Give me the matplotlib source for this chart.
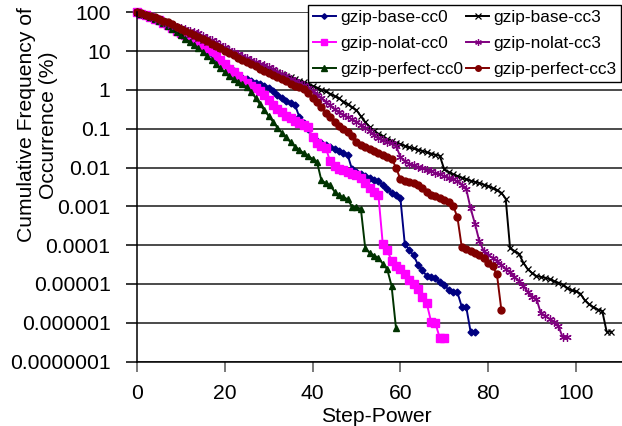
import numpy as np
import matplotlib
matplotlib.use("Agg")
import matplotlib.pyplot as plt
from matplotlib.ticker import FixedLocator, FixedFormatter

plt.rcParams['font.family'] = ['Liberation Sans', 'DejaVu Sans']

# log10 of cumulative frequency (%) at step-power 0, 1, 2, ...
base_cc0 = [2.00, 1.96, 1.92, 1.88, 1.83, 1.78, 1.72, 1.66, 1.59, 1.52,
            1.45, 1.38, 1.31, 1.23, 1.16, 1.08, 1.00, 0.92, 0.83, 0.75,
            0.66, 0.57, 0.48, 0.38, 0.31, 0.27, 0.23, 0.19, 0.14, 0.09,
            0.04, -0.02, -0.12, -0.22, -0.28, -0.33, -0.39, -0.70, -0.85, -1.00,
            -1.25, -1.32, -1.38, -1.42, -1.47, -1.52, -1.58, -1.63, -1.68, -2.05,
            -2.12, -2.18, -2.23, -2.27, -2.32, -2.36, -2.45, -2.55, -2.65, -2.70,
            -2.78, -3.96, -4.12, -4.26, -4.50, -4.64, -4.80, -4.83, -4.86, -4.95,
            -5.03, -5.15, -5.20, -5.22, -5.59, -5.59, -6.23, -6.23]
nolat_cc0 = [2.00, 1.96, 1.92, 1.88, 1.84, 1.79, 1.73, 1.66, 1.60, 1.53,
             1.47, 1.42, 1.36, 1.30, 1.24, 1.16, 1.08, 0.99, 0.90, 0.78,
             0.66, 0.55, 0.45, 0.36, 0.26, 0.17, 0.11, 0.05, -0.04, -0.14,
             -0.26, -0.38, -0.50, -0.58, -0.66, -0.73, -0.80, -0.86, -0.91, -0.96,
             -1.22, -1.36, -1.44, -1.49, -1.84, -1.95, -2.03, -2.07, -2.12, -2.16,
             -2.20, -2.27, -2.40, -2.53, -2.62, -2.71, -3.98, -4.13, -4.40, -4.55,
             -4.62, -4.75, -4.90, -5.00, -5.13, -5.33, -5.50, -5.97, -6.02, -6.40,
             -6.40]
perfect_cc0 = [2.00, 1.96, 1.92, 1.88, 1.83, 1.78, 1.72, 1.65, 1.57, 1.49,
               1.41, 1.32, 1.24, 1.15, 1.07, 0.97, 0.87, 0.77, 0.66, 0.56,
               0.46, 0.36, 0.28, 0.21, 0.14, 0.07, -0.05, -0.20, -0.37, -0.52,
               -0.67, -0.82, -0.97, -1.10, -1.22, -1.35, -1.46, -1.55, -1.63, -1.70,
               -1.78, -1.85, -2.33, -2.40, -2.46, -2.62, -2.72, -2.76, -2.82, -3.01,
               -3.03, -3.06, -4.08, -4.20, -4.27, -4.33, -4.48, -4.62, -5.05, -6.13]
base_cc3 = [2.00, 1.96, 1.93, 1.90, 1.86, 1.82, 1.77, 1.72, 1.66, 1.60,
            1.55, 1.50, 1.45, 1.40, 1.34, 1.29, 1.23, 1.18, 1.12, 1.07,
            1.02, 0.97, 0.92, 0.87, 0.82, 0.77, 0.72, 0.67, 0.62, 0.58,
            0.53, 0.49, 0.45, 0.41, 0.37, 0.33, 0.29, 0.24, 0.20, 0.15,
            0.10, 0.06, 0.01, -0.04, -0.10, -0.16, -0.22, -0.30, -0.37, -0.45,
            -0.52, -0.68, -0.83, -0.95, -1.05, -1.13, -1.20, -1.26, -1.32, -1.36,
            -1.40, -1.44, -1.48, -1.51, -1.54, -1.57, -1.61, -1.64, -1.67, -1.70,
            -2.05, -2.12, -2.18, -2.22, -2.26, -2.30, -2.34, -2.37, -2.40, -2.44,
            -2.48, -2.53, -2.58, -2.65, -2.80, -4.08, -4.15, -4.22, -4.45, -4.62,
            -4.72, -4.80, -4.82, -4.84, -4.88, -4.93, -4.97, -5.02, -5.10, -5.17,
            -5.19, -5.25, -5.42, -5.53, -5.60, -5.66, -5.70, -6.23, -6.23]
nolat_cc3 = [2.00, 1.96, 1.93, 1.89, 1.85, 1.81, 1.76, 1.71, 1.66, 1.62,
             1.59, 1.56, 1.53, 1.50, 1.46, 1.40, 1.35, 1.29, 1.23, 1.16,
             1.10, 1.04, 0.98, 0.93, 0.88, 0.83, 0.78, 0.73, 0.68, 0.63,
             0.58, 0.53, 0.47, 0.41, 0.35, 0.29, 0.24, 0.18, 0.12, 0.06,
             -0.02, -0.12, -0.20, -0.30, -0.40, -0.50, -0.58, -0.64, -0.70, -0.76,
             -0.82, -0.90, -0.98, -1.07, -1.17, -1.25, -1.30, -1.34, -1.38, -1.44,
             -1.72, -1.84, -1.90, -1.94, -1.98, -2.02, -2.06, -2.10, -2.14, -2.18,
             -2.22, -2.26, -2.30, -2.36, -2.44, -2.55, -3.05, -3.45, -3.90, -4.15,
             -4.26, -4.32, -4.40, -4.50, -4.62, -4.70, -4.82, -4.92, -5.05, -5.20,
             -5.34, -5.38, -5.75, -5.82, -5.90, -5.97, -6.08, -6.38, -6.38]
perfect_cc3 = [2.00, 1.97, 1.94, 1.91, 1.87, 1.83, 1.78, 1.74, 1.69, 1.63,
               1.58, 1.53, 1.47, 1.42, 1.37, 1.31, 1.25, 1.19, 1.13, 1.07,
               1.01, 0.95, 0.89, 0.83, 0.78, 0.72, 0.66, 0.61, 0.55, 0.49,
               0.44, 0.38, 0.33, 0.27, 0.22, 0.16, 0.11, 0.07, 0.02, -0.08,
               -0.20, -0.30, -0.45, -0.60, -0.70, -0.82, -0.92, -1.00, -1.08, -1.20,
               -1.35, -1.42, -1.48, -1.52, -1.57, -1.62, -1.67, -1.72, -1.77, -2.00,
               -2.30, -2.35, -2.38, -2.41, -2.46, -2.52, -2.62, -2.70, -2.74, -2.78,
               -2.84, -2.90, -2.98, -3.28, -4.06, -4.10, -4.14, -4.20, -4.26, -4.32,
               -4.45, -4.55, -4.75, -5.66]

series_names = ['gzip-base-cc0', 'gzip-nolat-cc0', 'gzip-perfect-cc0',
                'gzip-base-cc3', 'gzip-nolat-cc3', 'gzip-perfect-cc3']
series_data = [base_cc0, nolat_cc0, perfect_cc0, base_cc3, nolat_cc3, perfect_cc3]

ytick_values = [100, 10, 1, 0.1, 0.01, 0.001, 0.0001, 0.00001, 0.000001, 0.0000001]
ytick_labels = ['100', '10', '1', '0.1', '0.01', '0.001', '0.0001', '0.00001',
                '0.000001', '0.0000001']
xtick_values = [0, 20, 40, 60, 80, 100]

styles = [
    dict(color='#000080', marker='D', ms=3.5, mec='#000080'),
    dict(color='#FF00FF', marker='s', ms=5.5, mec='#FF00FF'),
    dict(color='#003300', marker='^', ms=5, mec='#003300'),
    dict(color='#000000', marker='x', ms=5, mew=0.9),
    dict(color='#800080', marker=(6, 2, 0), ms=6, mew=0.9),
    dict(color='#800000', marker='o', ms=5, mec='#800000'),
]

W, H = 622, 426
fig = plt.figure(figsize=(W / 100, H / 100), dpi=100)
ax = fig.add_axes([137 / W, 1 - 361.5 / H, 1 - 137 / W, (361.5 - 12.3) / H])

for name, vals, st in zip(series_names, series_data, styles):
    x = np.arange(len(vals))
    y = np.power(10.0, np.array(vals))
    ax.plot(x, y, lw=1.4, label=name, clip_on=False, **st)

ax.set_yscale('log')
ax.set_ylim(1e-7, 100)
ax.set_xlim(0, 110.5)
ax.yaxis.set_major_locator(FixedLocator(ytick_values))
ax.yaxis.set_major_formatter(FixedFormatter(ytick_labels))
ax.yaxis.set_minor_locator(FixedLocator([]))
ax.set_xticks(xtick_values)
ax.set_xticklabels([str(v) for v in xtick_values])

ax.grid(axis='y', color='#1a1a1a', lw=1.1)
ax.set_axisbelow(True)
for s in ['top', 'right']:
    ax.spines[s].set_visible(False)
ax.spines['left'].set_linewidth(1.1)
ax.spines['bottom'].set_linewidth(1.1)
ax.tick_params(axis='y', direction='out', length=8, width=1.1, pad=11,
               labelsize=15.2, color='black')
ax.tick_params(axis='x', direction='out', length=7, width=1.1, pad=9,
               labelsize=15.2, color='#555555')

fig.text(376 / W, 0.5 / H, 'Step-Power', ha='center', va='bottom', fontsize=15.2)
fig.text(37.5 / W, 1 - 125 / H, 'Cumulative Frequency of\nOccurrence (%)',
         rotation=90, ha='center', va='center', fontsize=15.2,
         multialignment='center', linespacing=1.15)

leg = fig.legend(loc='upper left', bbox_to_anchor=(308 / W, 1 - 5 / H), ncol=2,
                 fontsize=12.4, frameon=True, fancybox=False, edgecolor='black',
                 framealpha=1, borderaxespad=0, borderpad=0.3, labelspacing=0.62,
                 handlelength=1.3, handletextpad=0.25, columnspacing=0.2,
                 markerscale=0.8)
leg.get_frame().set_linewidth(1.0)

fig.savefig('out.png', dpi=100)
